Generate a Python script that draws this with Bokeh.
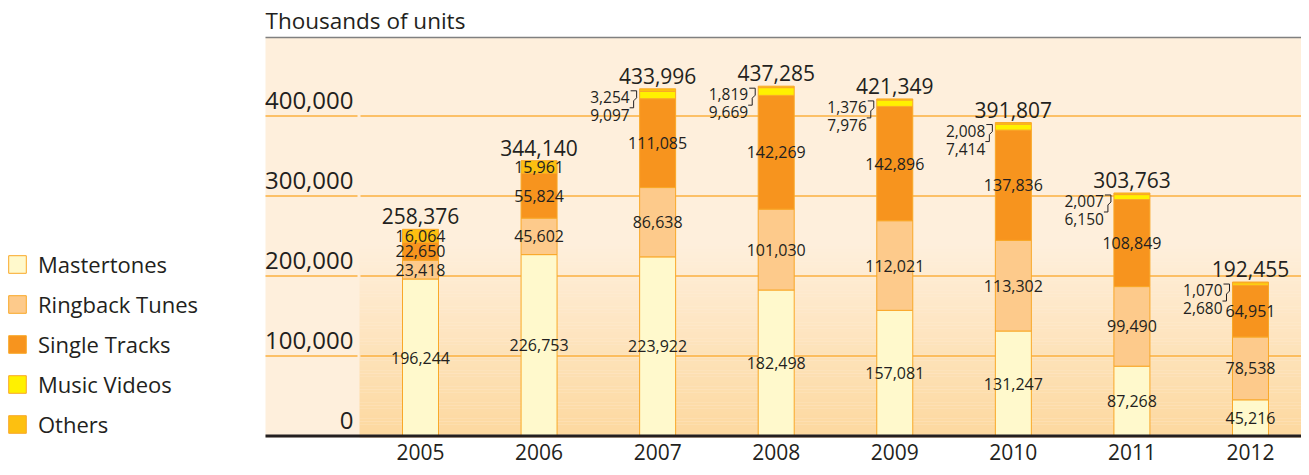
from bokeh.plotting import figure
from bokeh.models import ColumnDataSource, Range1d
from bokeh.core.properties import value
from bokeh.embed import file_html
from bokeh.resources import INLINE

# ---------------- data (thousands of units) ----------------
years = [2005, 2006, 2007, 2008, 2009, 2010, 2011, 2012]
mastertones = [196244, 226753, 223922, 182498, 157081, 131247, 87268, 45216]
ringback_tunes = [23418, 45602, 86638, 101030, 112021, 113302, 99490, 78538]
single_tracks = [22650, 55824, 111085, 142269, 142896, 137836, 108849, 64951]
music_videos = [0, 0, 9097, 9669, 7976, 7414, 6150, 2680]
others = [16064, 15961, 3254, 1819, 1376, 2008, 2007, 1070]
totals = [258376, 344140, 433996, 437285, 421349, 391807, 303763, 192455]
series_names = ["Mastertones", "Ringback Tunes", "Single Tracks", "Music Videos", "Others"]
y_ticks = [0, 100000, 200000, 300000, 400000]
title_text = "Thousands of units"

# ---------------- styling / layout ----------------
FONT = "Open Sans"
TXT = "#231F20"
COLORS = ["#FFF9CC", "#FDCA8B", "#F7941E", "#FFF100", "#FDC010"]
OUTLINE = "#F9A828"
CREAM = (254, 239, 220)
DEEP = (253, 216, 158)
GRID = "#FBB040"

W, H = 1301, 467
S = 118.57          # px per year
U = 1250.0          # data units per px
X0 = 2005 - 420 / S
X1 = X0 + W / S


def PX(px):
    return X0 + px / S


def PY(py):
    return (435.5 - py) * U


BAR_W = 36 / S

p = figure(width=W, height=H, x_range=Range1d(X0, X1), y_range=Range1d(PY(H), PY(0)),
           x_axis_type=None, y_axis_type=None, toolbar_location=None,
           output_backend="svg", min_border=0, outline_line_color=None,
           background_fill_color="white", border_fill_color="white")

# band background
p.quad(left=PX(265), right=X1, bottom=PY(437), top=PY(37),
       fill_color="#%02X%02X%02X" % CREAM, line_color=None)
# gradient in the plotting panel
n = 60
g_top, g_bot = 245.0, 437.0
for i in range(n):
    t0 = g_top + (g_bot - g_top) * i / n
    t1 = g_top + (g_bot - g_top) * (i + 1) / n
    f = (i + 0.5) / n
    c = tuple(int(round(CREAM[k] + (DEEP[k] - CREAM[k]) * f)) for k in range(3))
    p.quad(left=PX(359), right=X1, bottom=PY(t1), top=PY(t0),
           fill_color="#%02X%02X%02X" % c, line_color=None)

# grid lines
gx0, gx1, gy = [], [], []
for v in y_ticks[1:]:
    gx0 += [PX(265), PX(360)]
    gx1 += [PX(357), X1]
    gy += [v, v]
p.segment(x0=gx0, y0=gy, x1=gx1, y1=gy, line_color=GRID, line_width=1.3)
p.segment(x0=[PX(265)], y0=[PY(37)], x1=[X1], y1=[PY(37)], line_color="#808080", line_width=1.5)

# stacked bars
src = ColumnDataSource(dict(year=years, Mastertones=mastertones, Ringback=ringback_tunes,
                            Single=single_tracks, Videos=music_videos, Others=others))
stackers = ["Mastertones", "Ringback", "Single", "Videos", "Others"]
p.vbar_stack(stackers, x="year", width=BAR_W, fill_color=COLORS, line_color=OUTLINE,
             line_width=1, source=src, legend_label=series_names)

# baseline
p.segment(x0=[PX(265)], y0=[0], x1=[X1], y1=[0], line_color=TXT, line_width=3)

# segment labels
series = [mastertones, ringback_tunes, single_tracks, music_videos, others]
in_x, in_y, in_t = [], [], []
out_x, out_y, out_t = [], [], []
bx, by = [], []
for j, yr in enumerate(years):
    base = 0
    outside = False
    for k, ser in enumerate(series):
        v = ser[j]
        if v >= 12000:
            in_x.append(yr)
            in_y.append(base + v / 2)
            in_t.append(f"{v:,}")
        elif v > 0:
            outside = True
        base += v
    if outside:
        bl = yr - BAR_W / 2
        top = totals[j]
        out_x += [bl - 10 / S, bl - 10 / S]
        out_y += [top - 8 * U, top - 26 * U]
        out_t += [f"{others[j]:,}", f"{music_videos[j]:,}"]
        pts = [(-9, 2), (-3, 2), (-3, 9), (-6, 12), (-6, 19), (-10, 19)]
        bx.append([bl + a / S for a, b in pts])
        by.append([top - b * U for a, b in pts])

p.text(x=in_x, y=in_y, text=in_t, text_font=value(FONT), text_font_size="16px",
       text_color=TXT, text_align="center", text_baseline="middle")
p.text(x=out_x, y=out_y, text=out_t, text_font=value(FONT), text_font_size="15.5px",
       text_color=TXT, text_align="right", text_baseline="middle")
p.multi_line(xs=bx, ys=by, line_color=TXT, line_width=1)

# totals
p.text(x=years, y=[t + 13 * U for t in totals], text=[f"{t:,}" for t in totals],
       text_font=value(FONT), text_font_size="21px", text_color=TXT,
       text_align="center", text_baseline="middle")

# y tick labels
p.text(x=[PX(353)] * len(y_ticks), y=[v + 16 * U for v in y_ticks],
       text=[f"{v:,}" for v in y_ticks], text_font=value(FONT), text_font_size="24px",
       text_color=TXT, text_align="right", text_baseline="middle")

# year labels
p.text(x=years, y=[PY(451)] * len(years), text=[str(y) for y in years],
       text_font=value(FONT), text_font_size="21px", text_color=TXT,
       text_align="center", text_baseline="middle")

# title
p.text(x=[PX(265)], y=[PY(20)], text=[title_text], text_font=value(FONT),
       text_font_size="22.5px", text_color=TXT, text_align="left", text_baseline="middle")

# legend
lg = p.legend[0]
lg.location = (6, 28)
lg.padding = 0
lg.margin = 0
lg.spacing = 10
lg.glyph_width = 22
lg.glyph_height = 22
lg.label_height = 22
lg.label_standoff = 10
lg.label_text_font = FONT
lg.label_text_font_size = "22px"
lg.label_text_color = TXT
lg.background_fill_alpha = 0
lg.border_line_alpha = 0

open("out.html", "w").write(file_html(p, INLINE))
